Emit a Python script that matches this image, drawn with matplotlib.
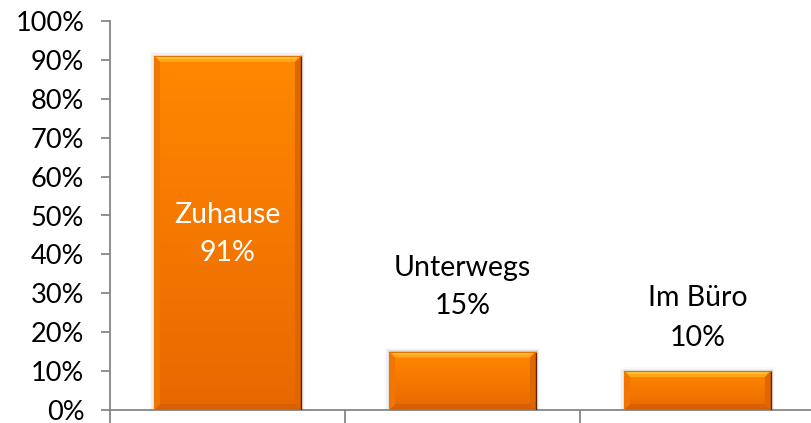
import numpy as np
import matplotlib.pyplot as plt
from matplotlib.patches import Polygon, Rectangle
from matplotlib.colors import LinearSegmentedColormap

categories = ['Zuhause', 'Unterwegs', 'Im Büro']
values = [91, 15, 10]
value_labels = ['91%', '15%', '10%']
yticks = list(range(0, 101, 10))

plt.rcParams['font.family'] = ['Lato', 'DejaVu Sans']

fig = plt.figure(figsize=(8.12, 4.23), dpi=100)
ax = fig.add_axes([110 / 812, 13 / 423, 705 / 812, 389 / 423])

x = np.arange(len(categories)) + 0.5
width = 0.625
ax.set_xlim(0, 3)
ax.set_ylim(0, 100)

# bar body with vertical gradient
cmap = LinearSegmentedColormap.from_list('org', ['#E86800', '#F57800', '#FF8800'])
bars = ax.bar(x, values, width=width, color='none', zorder=2)

# px -> data conversion for bevel
bx = 6 / 235.0
by = 6 / 3.89

for xc, v, b in zip(x, values, bars):
    x0, x1 = xc - width / 2, xc + width / 2
    # soft shadow around the bar
    for k, a in enumerate([0.06, 0.04, 0.02]):
        off = (k + 1) * 1.3
        ax.add_patch(Rectangle((x0 - off / 235, 0), width + 2 * off / 235, v + off / 3.89,
                               color='black', alpha=a, lw=0, zorder=1))
    grad = np.linspace(0, 1, 256).reshape(-1, 1)
    im = ax.imshow(grad, cmap=cmap, origin='lower', aspect='auto',
                   extent=(x0, x1, 0, v), zorder=2.5, vmin=0, vmax=1)
    im.set_clip_path(b)
    # bevels
    ax.add_patch(Polygon([(x0, v), (x1, v), (x1 - bx, v - by), (x0 + bx, v - by)],
                         closed=True, color='#FFA516', lw=0, zorder=3))
    ax.add_patch(Polygon([(x0, v), (x1, v), (x1 - bx, v - by * 0.5), (x0 + bx, v - by * 0.5)],
                         closed=True, color='#FFC23A', lw=0, zorder=3.1))
    ax.add_patch(Polygon([(x1, v), (x1, 0), (x1 - bx, by), (x1 - bx, v - by)],
                         closed=True, color='#E06600', lw=0, zorder=3))
    ax.add_patch(Polygon([(x0, 0), (x1, 0), (x1 - bx, by), (x0 + bx, by)],
                         closed=True, color='#D86000', lw=0, zorder=3))
    ax.add_patch(Polygon([(x0, v), (x0, 0), (x0 + bx, by), (x0 + bx, v - by)],
                         closed=True, color='#F07600', lw=0, zorder=3))
    ax.plot([x1, x1], [0, v], color='#5A2200', lw=1.0, zorder=3.5)
    ax.plot([x0, x1], [v, v], color='#E87000', lw=0.8, zorder=3.5)

# data labels
label_pos = [(50.1, 40.4), (36.5, 26.7), (28.8, 18.5)]
label_col = ['white', 'black', 'black']
for xc, cat, lab, (y1, y2), c in zip(x, categories, value_labels, label_pos, label_col):
    ax.text(xc, y1, cat, ha='center', va='center', fontsize=20.5, color=c, zorder=5)
    ax.text(xc, y2, lab, ha='center', va='center', fontsize=20.5, color=c, zorder=5)

ax.set_yticks(yticks)
ax.set_yticklabels([f'{t}%' for t in yticks], fontsize=19.5)
ax.set_xticks([0, 1, 2, 3])
ax.set_xticklabels([])

for s in ['top', 'right']:
    ax.spines[s].set_visible(False)
for s in ['left', 'bottom']:
    ax.spines[s].set_color('#868686')
    ax.spines[s].set_linewidth(1.3)
ax.tick_params(axis='y', length=6.5, width=1.3, color='#868686', pad=12)
ax.tick_params(axis='x', length=9, width=1.3, color='#868686')

fig.savefig('out.png', dpi=100)
